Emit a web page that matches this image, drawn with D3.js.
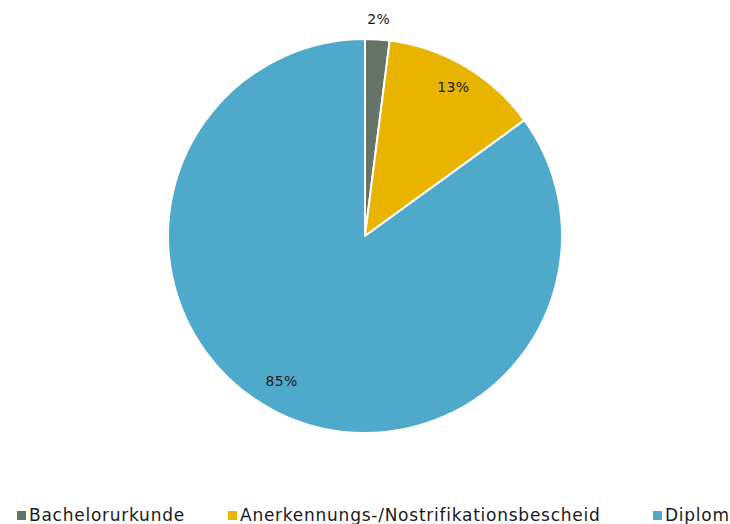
<!DOCTYPE html>
<html>
<head>
<meta charset="utf-8">
<script src="https://cdn.jsdelivr.net/npm/d3@7"></script>
<style>
  body { margin: 0; background: #fff; }
  text { font-family: "DejaVu Sans", Verdana, sans-serif; fill: #1a1a1a; }
</style>
</head>
<body>
<div id="canvas" class="canvas"></div>
<script>
// data
var categories = ['Bachelorurkunde', 'Anerkennungs-/Nostrifikationsbescheid', 'Diplom'];
var values = [2, 13, 85];
var colors = ['#667369', '#e8b400', '#4fa9cb'];

var W = 730, H = 524;
var cx = 365, cy = 236, R = 197;

var svg = d3.select('.canvas')
    .append('svg')
    .attr('width', W)
    .attr('height', H);

var rows = categories.map(function(c, i){
  return { name: c, value: values[i], color: colors[i] };
});

var pie = d3.pie()
    .sort(null)
    .value(function(d){ return d.value; });

var arc = d3.arc().innerRadius(0).outerRadius(R);

var plot = svg.append('g')
    .attr('transform', 'translate(' + cx + ',' + cy + ')');

var slices = pie(rows);

plot.selectAll('.slice')
    .data(slices)
    .enter()
    .append('path')
    .attr('class', 'slice')
    .attr('d', arc)
    .attr('fill', function(d){ return d.data.color; })
    .attr('stroke', '#fff')
    .attr('stroke-width', 2)
    .attr('stroke-linejoin', 'round');

//labels: small slices go outside
plot.selectAll('.lbl')
    .data(slices)
    .enter()
    .append('text')
    .attr('class', 'lbl')
    .attr('text-anchor', 'middle')
    .attr('dy', '0.35em')
    .style('font-size', '14px')
    .style('letter-spacing', '0.3px')
    .attr('transform', function(d){
      var a = (d.startAngle + d.endAngle) / 2;
      var r = (d.endAngle - d.startAngle) < 0.3 ? R + 20 : R * 0.85;
      if (d.data.value > 50) a += 0.05;
      else if (d.data.value > 5) r = R * 0.88;
      return 'translate(' + (Math.sin(a) * r) + ',' + (-Math.cos(a) * r) + ')';
    })
    .text(function(d){ return d.data.value + '%'; });

//legend
var legendX = [29, 240, 665];
var legend = svg.selectAll('.legend')
    .data(rows)
    .enter()
    .append('g')
    .attr('class', 'legend')
    .attr('transform', function(d, i){ return 'translate(' + legendX[i] + ',515)'; });

legend.append('rect')
    .attr('x', -12)
    .attr('y', -4)
    .attr('width', 9)
    .attr('height', 9)
    .attr('fill', function(d){ return d.color; });

legend.append('text')
    .attr('x', 0)
    .attr('dy', '0.35em')
    .style('font-size', '17px')
    .style('letter-spacing', '0.75px')
    .text(function(d){ return d.name; });
</script>
</body>
</html>
